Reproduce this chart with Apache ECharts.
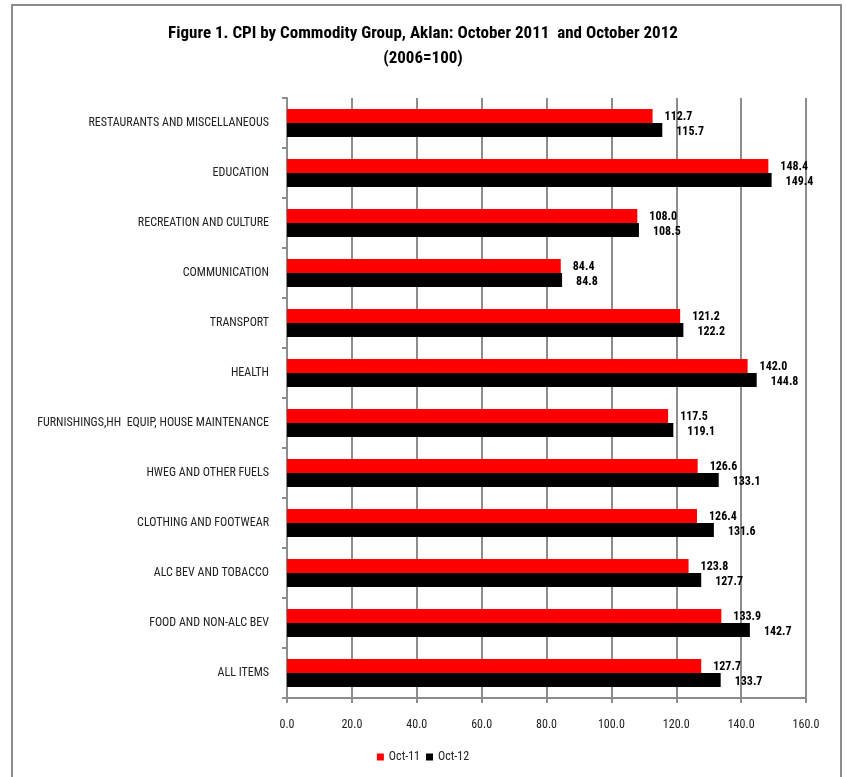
<!DOCTYPE html>
<html><head><meta charset="utf-8">
<script src="https://cdn.jsdelivr.net/npm/echarts@6/dist/echarts.min.js"></script>
<style>html,body{margin:0;padding:0;background:#fff}#c{width:846px;height:777px}</style>
</head><body><div id="c"></div>
<script>
const categories = [
  'RESTAURANTS AND MISCELLANEOUS',
  'EDUCATION',
  'RECREATION AND CULTURE',
  'COMMUNICATION',
  'TRANSPORT',
  'HEALTH',
  'FURNISHINGS,HH  EQUIP, HOUSE MAINTENANCE',
  'HWEG AND OTHER FUELS',
  'CLOTHING AND FOOTWEAR',
  'ALC BEV AND TOBACCO',
  'FOOD AND NON-ALC BEV',
  'ALL ITEMS'
];
const oct11 = [112.7, 148.4, 108.0, 84.4, 121.2, 142.0, 117.5, 126.6, 126.4, 123.8, 133.9, 127.7];
const oct12 = [115.7, 149.4, 108.5, 84.8, 122.2, 144.8, 119.1, 133.1, 131.6, 127.7, 142.7, 133.7];
const seriesNames = ['Oct-11', 'Oct-12'];

const FONT = '"Liberation Sans Narrow", "Arial Narrow", "Roboto Condensed", Roboto, sans-serif';
const chart = echarts.init(document.getElementById('c'));
chart.setOption({
  animation: false,
  textStyle: { fontFamily: FONT },
  title: {
    text: 'Figure 1. CPI by Commodity Group, Aklan: October 2011  and October 2012\n(2006=100)',
    left: 'center', top: 16,
    textStyle: { fontFamily: FONT, fontSize: 17, fontWeight: 'bold', color: '#000', lineHeight: 25 }
  },
  graphic: [{
    type: 'rect', shape: { x: 12, y: 5, width: 829, height: 800 },
    style: { fill: 'none', stroke: '#8c8c8c', lineWidth: 2 }, silent: true, z: -1
  }],
  legend: {
    bottom: 9, left: 'center', itemWidth: 7, itemHeight: 7, itemGap: 6,
    icon: 'rect',
    textStyle: { fontFamily: FONT, fontSize: 12, color: '#222' },
    data: seriesNames
  },
  grid: { left: 287, right: 40, top: 98, bottom: 79, containLabel: false },
  xAxis: {
    type: 'value', min: 0, max: 160, interval: 20,
    axisLine: { show: true, lineStyle: { color: '#8c8c8c', width: 2 } },
    axisTick: { show: true, length: 5, lineStyle: { color: '#8c8c8c', width: 2 } },
    axisLabel: { formatter: v => v.toFixed(1), fontFamily: FONT, fontSize: 12, color: '#222', margin: 21 },
    splitLine: { show: true, lineStyle: { color: '#8c8c8c', width: 2 } }
  },
  yAxis: {
    type: 'category', data: categories, inverse: true,
    axisLine: { show: true, lineStyle: { color: '#8c8c8c', width: 2 } },
    axisTick: { show: true, length: 5, lineStyle: { color: '#8c8c8c', width: 2 } },
    axisLabel: { fontFamily: FONT, fontSize: 12, color: '#222', margin: 18 }
  },
  series: [
    {
      name: seriesNames[0], type: 'bar', data: oct11, barWidth: 14, barGap: '0%',
      itemStyle: { color: '#ff0000' },
      label: { show: true, position: 'right', distance: 12, offset: [0, 1], formatter: p => p.value.toFixed(1),
        fontFamily: FONT, fontSize: 12, fontWeight: 'bold', color: '#000' }
    },
    {
      name: seriesNames[1], type: 'bar', data: oct12, barWidth: 14,
      itemStyle: { color: '#000000' },
      label: { show: true, position: 'right', distance: 14, offset: [0, 2], formatter: p => p.value.toFixed(1),
        fontFamily: FONT, fontSize: 12, fontWeight: 'bold', color: '#000' }
    }
  ]
});
</script></body></html>
